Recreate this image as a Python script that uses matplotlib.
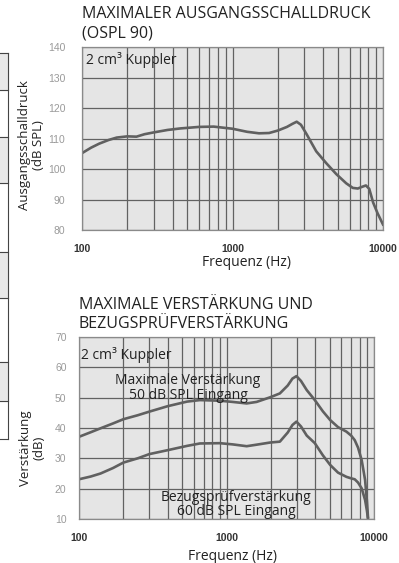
import numpy as np
import matplotlib
matplotlib.use('Agg')
import matplotlib.pyplot as plt
from matplotlib.patches import Rectangle
from matplotlib.lines import Line2D

plt.rcParams['font.family'] = ['Open Sans', 'DejaVu Sans']

# data
ospl_freq = [100, 115, 130, 150, 170, 200, 230, 260, 300, 370, 450, 600, 750,
             1000, 1250, 1500, 1750, 2000, 2300, 2500, 2670, 2850, 3100, 3600,
             4200, 4900, 5700, 6300, 6800, 7300, 7700, 8100, 8600, 9200, 10000]
ospl_db = [105.2, 107.0, 108.3, 109.5, 110.3, 110.7, 110.6, 111.4, 112.0, 112.8,
           113.3, 113.8, 113.9, 113.2, 112.2, 111.7, 111.8, 112.6, 113.8, 114.8,
           115.5, 114.5, 111.5, 105.8, 101.9, 98.3, 95.3, 93.8, 93.6, 94.2, 94.6,
           93.5, 89.0, 85.5, 81.8]

gain_freq = [100, 120, 140, 170, 200, 250, 300, 400, 540, 660, 900, 1100, 1370,
             1600, 1970, 2300, 2600, 2800, 2980, 3200, 3500, 3970, 4500, 5050,
             5700, 6500, 7000, 7400, 7800, 8250, 8700, 8950, 9100]
max_gain = [37.1, 38.6, 39.9, 41.5, 42.9, 44.2, 45.4, 47.2, 48.7, 49.2, 49.0,
            48.6, 48.1, 48.6, 50.1, 51.4, 54.0, 56.3, 57.1, 55.5, 52.5, 49.2,
            45.5, 42.6, 40.3, 38.8, 37.5, 36.0, 33.5, 29.4, 22.9, 16.0, 10.7]
ref_gain = [23.1, 24.0, 25.0, 26.8, 28.6, 30.0, 31.4, 32.7, 34.1, 34.9, 35.0,
            34.6, 34.0, 34.5, 35.2, 35.5, 38.5, 41.0, 42.1, 40.5, 37.5, 35.0,
            31.0, 27.8, 25.3, 23.9, 23.4, 23.1, 22.0, 20.1, 16.3, 12.8, 10.2]

x_ticks = [100, 1000, 10000]
x_minor = [200, 300, 400, 500, 600, 700, 800, 900,
           2000, 3000, 4000, 5000, 6000, 7000, 8000, 9000]

W, H = 399, 563
fig = plt.figure(figsize=(W / 100, H / 100), dpi=100)


def box(x0, y0, x1, y1):
    return [x0 / W, 1 - y1 / H, (x1 - x0) / W, (y1 - y0) / H]


def setup(ax, ylim, ystep, ypad):
    ax.set_facecolor('#e5e5e5')
    ax.set_xscale('log')
    ax.set_xlim(100, 10000)
    ax.set_ylim(*ylim)
    ax.set_yticks(np.arange(ylim[0], ylim[1] + 1, ystep))
    ax.set_xticks(x_ticks)
    ax.set_xticklabels([str(t) for t in x_ticks])
    ax.set_xticks(x_minor, minor=True)
    ax.xaxis.set_minor_formatter(plt.NullFormatter())
    ax.grid(True, which='both', color='#626262', lw=0.9)
    ax.set_axisbelow(True)
    ax.tick_params(which='both', length=0)
    ax.tick_params(axis='x', pad=10, labelsize=7.5, labelcolor='#333333')
    ax.tick_params(axis='y', pad=ypad, labelsize=7.5, labelcolor='#9a9a9a')
    for lab in ax.get_xticklabels() + ax.get_yticklabels():
        lab.set_family('Liberation Sans')
    for lab in ax.get_xticklabels():
        lab.set_fontweight('bold')
    for s in ax.spines.values():
        s.set_color('#8a8a8a')
        s.set_linewidth(0.9)


# left table fragment
rows = [53, 90, 137, 183, 252, 298, 362, 401, 439]
shaded = [(53, 90), (137, 183), (252, 298), (362, 401)]
for y0, y1 in shaded:
    fig.patches.append(Rectangle((0, 1 - y1 / H), 8 / W, (y1 - y0) / H,
                                 transform=fig.transFigure, color='#e8e8e8', zorder=0))
for y in rows:
    fig.add_artist(Line2D([0, 8 / W], [1 - y / H] * 2, color='#444444', lw=0.8))
fig.add_artist(Line2D([8 / W] * 2, [1 - 53 / H, 1 - 439 / H], color='#444444', lw=0.8))

txt = '#222222'

# top chart
ax1 = fig.add_axes(box(82, 47, 383, 230))
setup(ax1, (80, 140), 10, 12)
ax1.plot(ospl_freq, ospl_db, color='#606060', lw=1.9)
ax1.text(106, 135.6, '2 cm³ Kuppler', fontsize=10, va='center', ha='left', color=txt)
fig.text(82 / W, 1 - 23.5 / H, 'MAXIMALER AUSGANGSSCHALLDRUCK\n(OSPL 90)', fontsize=11.5,
         va='center', ha='left', color=txt, linespacing=1.25)
fig.text(32 / W, 1 - 145 / H, 'Ausgangsschalldruck\n(dB SPL)', rotation=90, fontsize=9.5,
         ha='center', va='center', multialignment='center', color=txt, linespacing=1.1)
fig.text(247 / W, 1 - 263 / H, 'Frequenz (Hz)', fontsize=10, ha='center', va='center',
         color=txt)

# bottom chart
ax2 = fig.add_axes(box(79, 337, 374, 519))
setup(ax2, (10, 70), 10, 9)
ax2.plot(gain_freq, max_gain, color='#606060', lw=1.9)
ax2.plot(gain_freq, ref_gain, color='#606060', lw=1.9)
ax2.text(103, 64.0, '2 cm³ Kuppler', fontsize=10, va='center', ha='left', color=txt)
ax2.text(548, 53.2, 'Maximale Verstärkung\n50 dB SPL Eingang', fontsize=10, ha='center',
         va='center', color=txt, linespacing=0.95)
ax2.text(1160, 14.7, 'Bezugsprüfverstärkung\n60 dB SPL Eingang', fontsize=10, ha='center',
         va='center', color=txt, linespacing=0.95)
fig.text(79 / W, 1 - 314.5 / H, 'MAXIMALE VERSTÄRKUNG UND\nBEZUGSPRÜFVERSTÄRKUNG', fontsize=11.5,
         va='center', ha='left', color=txt, linespacing=1.2)
fig.text(32 / W, 1 - 448 / H, 'Verstärkung\n(dB)', rotation=90, fontsize=9.5,
         ha='center', va='center', multialignment='center', color=txt, linespacing=1.1)
fig.text(232 / W, 1 - 557 / H, 'Frequenz (Hz)', fontsize=10, ha='center', va='center',
         color=txt)

fig.savefig('out.png', dpi=100)
